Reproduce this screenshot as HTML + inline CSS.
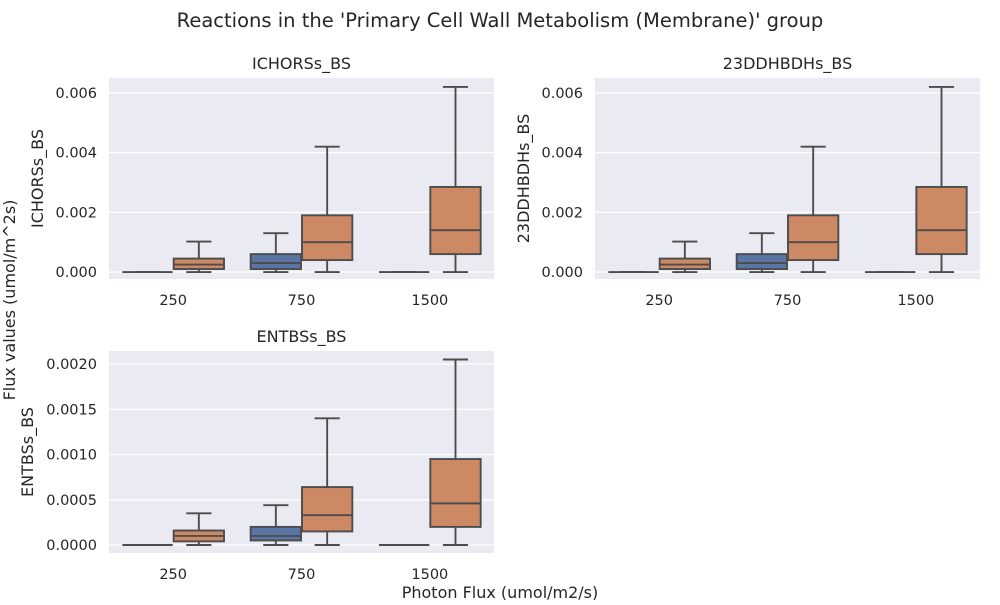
<!DOCTYPE html>
<html><head><meta charset="utf-8"><style>
body{margin:0;background:#fff;font-family:"Liberation Sans","DejaVu Sans",sans-serif}
svg text{font-family:"DejaVu Sans","Liberation Sans",sans-serif;fill:#262626}
</style></head><body>
<svg id="c" width="1000" height="600"></svg>
<script>
const categories=["250","750","1500"];
const hues=["blue","orange"];
const icBlue=[[0,0,0,0,0],[0,0.0001,0.0003,0.0006,0.0013],[0,0,0,0,0]];
const icOrange=[[0,0.0001,0.00025,0.00045,0.00102],[0,0.0004,0.001,0.0019,0.0042],[0,0.0006,0.0014,0.00285,0.0062]];
const ddBlue=[[0,0,0,0,0],[0,0.0001,0.0003,0.0006,0.0013],[0,0,0,0,0]];
const ddOrange=[[0,0.0001,0.00025,0.00045,0.00102],[0,0.0004,0.001,0.0019,0.0042],[0,0.0006,0.0014,0.00285,0.0062]];
const enBlue=[[0,0,0,0,0],[0,0.00005,0.0001,0.0002,0.00044],[0,0,0,0,0]];
const enOrange=[[0,0.00004,0.0001,0.00016,0.00035],[0,0.00015,0.00033,0.00064,0.0014],[0,0.0002,0.00046,0.00095,0.00205]];
const ticksA=[0,0.002,0.004,0.006];
const tickLabelsA=["0.000","0.002","0.004","0.006"];
const ticksB=[0,0.0005,0.001,0.0015,0.002];
const tickLabelsB=["0.0000","0.0005","0.0010","0.0015","0.0020"];

const svg=document.getElementById('c');
const NS="http://www.w3.org/2000/svg";
function mk(tag,attrs,parent,txt){const e=document.createElementNS(NS,tag);for(const k in attrs)e.setAttribute(k,attrs[k]);if(txt!==undefined)e.textContent=txt;(parent||svg).appendChild(e);return e;}
const colors={blue:"#5875a4",orange:"#cc8963"};

function panel(name,x0,y0,w,h,ymin,ymax,ticks,labels,blue,orange,title,ylx){
  const g=mk('g',{},svg);
  
  
  const bg=mk('rect',{x:x0,y:y0,width:w,height:h,fill:'#eaeaf2'},g);
  
  const ys=v=>y0+h-(v-ymin)/(ymax-ymin)*h;
  const bw=w/categories.length;
  const xs=i=>x0+bw*(i+0.5);
  ticks.forEach((t,i)=>{
    const y=ys(t);
    const gl=mk('line',{x1:x0,x2:x0+w,y1:y,y2:y,stroke:'#fff','stroke-width':1.3},g);
    
    const tl=mk('text',{x:x0-12,y:y+5,'text-anchor':'end','font-size':14.5},g,labels[i]);
    
  });
  categories.forEach((c,i)=>{
    const tl=mk('text',{x:xs(i),y:y0+h+26,'text-anchor':'middle','font-size':14.5},g,c);
    
    [[blue,'blue',-1],[orange,'orange',0]].forEach(([arr,hue,off])=>{
      const d=arr[i];if(!d)return;
      const bx=xs(i)+off*bw*0.4+0.5, bwid=bw*0.4-1;
      const cx=bx+bwid/2, lc='#4c4c4c', sw=1.9;
      const bg2=mk('g',{},g);
      
      mk('line',{x1:cx,x2:cx,y1:ys(d[0]),y2:ys(d[1]),stroke:lc,'stroke-width':sw},bg2);
      mk('line',{x1:cx,x2:cx,y1:ys(d[3]),y2:ys(d[4]),stroke:lc,'stroke-width':sw},bg2);
      mk('line',{x1:cx-bwid/4,x2:cx+bwid/4,y1:ys(d[0]),y2:ys(d[0]),stroke:lc,'stroke-width':sw},bg2);
      mk('line',{x1:cx-bwid/4,x2:cx+bwid/4,y1:ys(d[4]),y2:ys(d[4]),stroke:lc,'stroke-width':sw},bg2);
      mk('rect',{x:bx,y:ys(d[3]),width:bwid,height:Math.max(0,ys(d[1])-ys(d[3])),fill:colors[hue],stroke:lc,'stroke-width':sw},bg2);
      mk('line',{x1:bx,x2:bx+bwid,y1:ys(d[2]),y2:ys(d[2]),stroke:lc,'stroke-width':sw},bg2);
    });
  });
  const t=mk('text',{x:x0+w/2,y:y0-9,'text-anchor':'middle','font-size':16},g,title);
  
  const yl=mk('text',{x:0,y:0,'text-anchor':'middle','font-size':16,transform:`translate(${ylx},${y0+h/2}) rotate(-90)`},g,title);
  
}
panel('subplot-ichors',109,78,385,201,-0.000234,0.0065,ticksA,tickLabelsA,icBlue,icOrange,'ICHORSs_BS',43);
panel('subplot-23ddhbdhs',595,78,385,201,-0.000234,0.0065,ticksA,tickLabelsA,ddBlue,ddOrange,'23DDHBDHs_BS',529);
panel('subplot-entbs',109,351,385,202,-0.0000884,0.002144,ticksB,tickLabelsB,enBlue,enOrange,'ENTBSs_BS',33);
const mt=mk('text',{x:500,y:27,'text-anchor':'middle','font-size':19.5},svg,"Reactions in the 'Primary Cell Wall Metabolism (Membrane)' group");

const xl=mk('text',{x:500,y:598,'text-anchor':'middle','font-size':16},svg,"Photon Flux (umol/m2/s)");

const fl=mk('text',{x:0,y:0,'text-anchor':'middle','font-size':16,transform:'translate(15,300) rotate(-90)'},svg,"Flux values (umol/m^2s)");

</script>
</body></html>
